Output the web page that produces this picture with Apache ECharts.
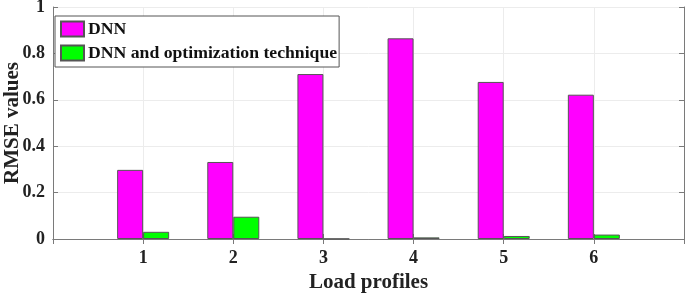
<!DOCTYPE html>
<html>
<head>
<meta charset="utf-8">
<script src="https://cdn.jsdelivr.net/npm/echarts@6/dist/echarts.min.js"></script>
<style>
  html, body { margin: 0; padding: 0; background: #fff; }
  #chart { width: 685px; height: 293px; }
</style>
</head>
<body>
<div id="chart"></div>
<script>
// categories (blank slots at both ends give the axis its margins)
const profiles = ['', '1', '2', '3', '4', '5', '6', ''];
const dnnValues = [null, 0.298, 0.332, 0.711, 0.865, 0.677, 0.622, null];
const dnnOptValues = [null, 0.031, 0.096, 0.001, 0.007, 0.013, 0.019, null];
const yTicks = [0, 0.2, 0.4, 0.6, 0.8, 1];

const font = '"Liberation Serif", "DejaVu Serif", serif';
const axisColor = '#7a7a7a';

const chart = echarts.init(document.getElementById('chart'));
const option = {
  animation: false,
  backgroundColor: '#fff',
  textStyle: { fontFamily: font },
  grid: { left: 53, right: 1, top: 7, bottom: 54, containLabel: false, outerBoundsMode: 'none' },
  legend: {
    orient: 'vertical',
    left: 55,
    top: 16,
    padding: [4, 2, 5, 5],
    itemWidth: 23,
    itemHeight: 15,
    itemGap: 6,
    icon: 'rect',
    backgroundColor: '#fff',
    borderColor: '#555',
    borderWidth: 1,
    borderRadius: 0,
    textStyle: { fontFamily: font, fontWeight: 'bold', fontSize: 17.7, color: '#111', padding: [0, 0, 0, -1] },
    data: ['DNN', 'DNN and optimization technique']
  },
  xAxis: [
    {
      type: 'category',
      data: profiles,
      boundaryGap: false,
      name: 'Load profiles',
      nameLocation: 'middle',
      nameGap: 32,
      nameTextStyle: { fontFamily: font, fontWeight: 'bold', fontSize: 21, color: '#222' },
      axisLine: { lineStyle: { color: axisColor } },
      axisTick: { inside: true, length: 5, lineStyle: { color: axisColor } },
      axisLabel: { fontFamily: font, fontWeight: 'bold', fontSize: 18, color: '#222', margin: 10 },
      splitLine: { show: true, lineStyle: { color: '#ececec' } }
    },
    {
      type: 'category',
      data: profiles,
      boundaryGap: false,
      position: 'top',
      axisLine: { lineStyle: { color: axisColor } },
      axisTick: { inside: true, length: 5, lineStyle: { color: axisColor } },
      axisLabel: { show: false },
      splitLine: { show: false }
    }
  ],
  yAxis: [
    {
      type: 'value',
      min: 0,
      max: 1,
      interval: 0.2,
      name: 'RMSE values',
      nameLocation: 'middle',
      nameGap: 30,
      nameMoveOverlap: false,
      nameTextStyle: { fontFamily: font, fontWeight: 'bold', fontSize: 21, color: '#222' },
      axisLine: { show: true, lineStyle: { color: axisColor } },
      axisTick: { show: true, inside: true, length: 5, lineStyle: { color: axisColor } },
      axisLabel: {
        fontFamily: font, fontWeight: 'bold', fontSize: 18, color: '#222', margin: 8,
        formatter: v => yTicks.includes(+v.toFixed(1)) ? String(+v.toFixed(1)) : ''
      },
      splitLine: { show: true, lineStyle: { color: '#ececec' } }
    },
    {
      type: 'value',
      min: 0,
      max: 1,
      interval: 0.2,
      position: 'right',
      axisLine: { show: true, lineStyle: { color: axisColor } },
      axisTick: { show: true, inside: true, length: 5, lineStyle: { color: axisColor } },
      axisLabel: { show: false },
      splitLine: { show: false }
    }
  ],
  series: [
    {
      name: 'DNN',
      type: 'bar',
      data: dnnValues,
      barWidth: 26,
      barGap: '0%',
      itemStyle: { color: '#ff00ff', borderColor: '#555', borderWidth: 1 }
    },
    {
      name: 'DNN and optimization technique',
      type: 'bar',
      data: dnnOptValues,
      barWidth: 26,
      barGap: '0%',
      itemStyle: { color: '#00ff00', borderColor: '#555', borderWidth: 1 }
    }
  ]
};
chart.setOption(option);
</script>
</body>
</html>
